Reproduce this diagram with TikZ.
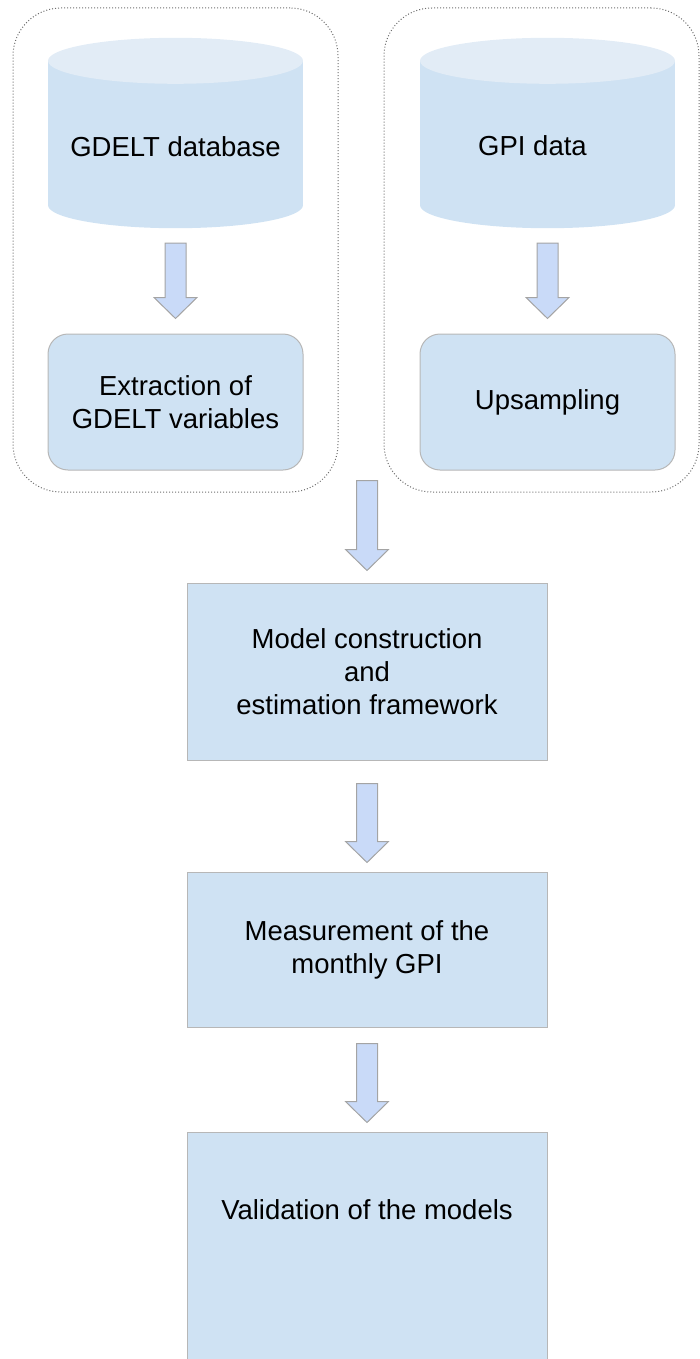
\documentclass[tikz,border=0pt]{standalone}
\usepackage{fontspec}
\setmainfont{Liberation Sans}
\usetikzlibrary{calc,positioning}
\pgfdeclarelayer{edgelayer}
\pgfsetlayers{edgelayer,main}
\definecolor{boxfill}{HTML}{CFE2F3}
\definecolor{cyltop}{HTML}{E2ECF6}
\definecolor{arrfill}{HTML}{C9DAF8}
\definecolor{boxline}{HTML}{B7B7B7}
\definecolor{arrline}{HTML}{A4A4A4}
\definecolor{grpline}{HTML}{6E6E6E}
\tikzset{font=\fontsize{27.5}{33}\selectfont}
\tikzstyle{grp}=[draw=grpline,line width=1pt,dash pattern=on 1pt off 2pt,rounded corners=48pt,minimum height=484pt]
\tikzstyle{cyl}=[minimum width=255pt,minimum height=190pt,inner sep=0pt]
\tikzstyle{rbox}=[draw=boxline,fill=boxfill,line width=1pt,rounded corners=20pt,minimum width=255pt,minimum height=136pt,align=center]
\tikzstyle{sbox}=[draw=boxline,fill=boxfill,line width=1pt,minimum width=360pt,align=center]
\tikzstyle{barrow}=[draw=arrline,fill=arrfill,line width=1pt,line join=miter]
\newcommand{\blockarrow}[2]{\draw[barrow] ($(#1)+(-10.5,0)$) -- ($(#2)+(-10.5,-21)$) -- ($(#2)+(-21.5,-21)$) -- (#2) -- ($(#2)+(21.5,-21)$) -- ($(#2)+(10.5,-21)$) -- ($(#1)+(10.5,0)$) -- cycle;}
\begin{document}
\begin{tikzpicture}
  [x=1pt,y=-1pt]
  \useasboundingbox (0,0) rectangle (700,1359);
  \node[grp,minimum width=325pt] (g1) at (175.5,250) {};
  \node[grp,minimum width=315pt] (g2) at (541.5,250) {};
  \node[cyl,label={[yshift=-14pt]center:GDELT database}] (n1) at (175.5,133) {};
  \node[cyl,label={[xshift=-15pt,yshift=-13pt]center:GPI data}] (n2) at (547.5,133) {};
  \node[rbox] (n1') at (175.5,402) {Extraction of\\GDELT variables};
  \node[rbox] (n2') at (547.5,402) {Upsampling};
  \node[sbox,minimum height=177pt] (n3) at (367,671.5) {Model construction\\and\\estimation framework};
  \node[sbox,minimum height=155pt] (n4) at (367,949.5) {Measurement of the\\monthly GPI};
  \node[sbox,minimum height=230pt,label={[yshift=37pt]center:Validation of the models}] (n5) at (367,1247) {};
\begin{pgfonlayer}{edgelayer}
  \foreach \c in {n1,n2}{
    \fill[boxfill] ($(\c.north west)+(0,23)$) rectangle ($(\c.south east)+(0,-23)$);
    \fill[boxfill] ($(\c.south)+(0,-23)$) ellipse [x radius=127.5pt,y radius=23pt];
    \fill[cyltop] ($(\c.north)+(0,23)$) ellipse [x radius=127.5pt,y radius=23pt];
  }
\end{pgfonlayer}
  \coordinate (a1) at ($(n1.south)+(0,15)$);
  \coordinate (b1) at ($(n1'.north)+(0,-15)$);
  \coordinate (a2) at ($(n2.south)+(0,15)$);
  \coordinate (b2) at ($(n2'.north)+(0,-15)$);
  \coordinate (a3) at ($(n3.north |- g1.south)+(0,-12)$);
  \coordinate (b3) at ($(n3.north)+(0,-12)$);
  \coordinate (a4) at ($(n3.south)+(0,23)$);
  \coordinate (b4) at ($(n4.north)+(0,-9)$);
  \coordinate (a5) at ($(n4.south)+(0,16)$);
  \coordinate (b5) at ($(n5.north)+(0,-9)$);
  \blockarrow{a1}{b1}
  \blockarrow{a2}{b2}
  \blockarrow{a3}{b3}
  \blockarrow{a4}{b4}
  \blockarrow{a5}{b5}
\end{tikzpicture}
\end{document}
